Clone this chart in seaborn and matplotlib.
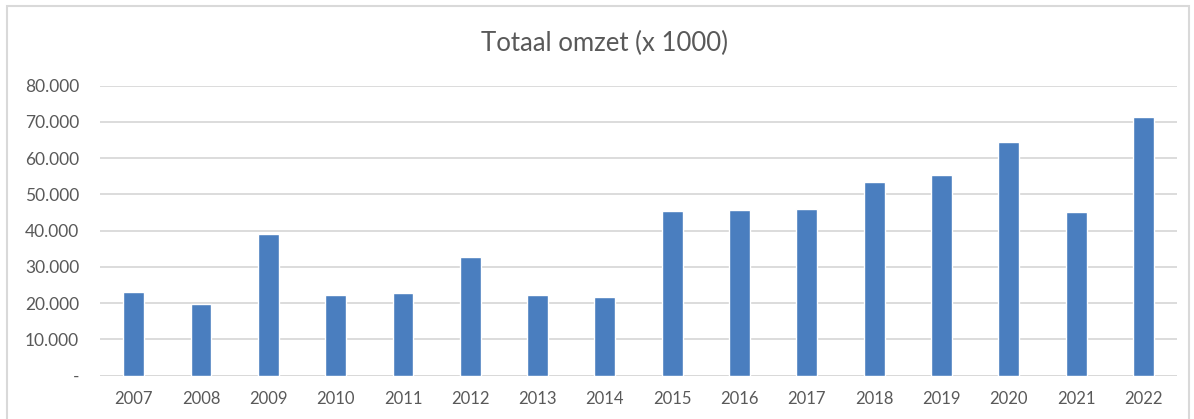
import pandas as pd
import matplotlib.pyplot as plt
import seaborn as sns
from matplotlib.patches import Rectangle
from matplotlib.ticker import FixedLocator, FuncFormatter

# Data
years = ['2007', '2008', '2009', '2010', '2011', '2012', '2013', '2014',
         '2015', '2016', '2017', '2018', '2019', '2020', '2021', '2022']
omzet = [23200, 19900, 39000, 22300, 22700, 32700, 22300, 21600,
         45400, 45800, 46000, 53400, 55500, 64600, 45100, 71400]
y_ticks = [0, 10000, 20000, 30000, 40000, 50000, 60000, 70000, 80000]

sns.set_theme(style='white')
plt.rcParams['font.family'] = ['Lato', 'DejaVu Sans']

text_col = '#595959'
grid_col = '#D9D9D9'
bar_col = '#4A7EBF'


def fmt_thousands(v, pos):
    if v == 0:
        return '-'
    return f'{int(v):,}'.replace(',', '.')


def plot_omzet():
    df = pd.DataFrame({'jaar': years, 'omzet': omzet})
    fig = plt.figure(figsize=(11.94, 4.19), dpi=100)
    ax = fig.add_axes([0.0838, 0.1033, 0.902, 0.6922])

    sns.barplot(data=df, x='jaar', y='omzet', color=bar_col,
                width=0.31, saturation=1, ax=ax, zorder=3)

    ax.set_ylim(0, 80000)
    ax.set_xlim(-0.5, len(years) - 0.5)
    ax.yaxis.set_major_locator(FixedLocator(y_ticks))
    ax.yaxis.set_major_formatter(FuncFormatter(fmt_thousands))
    ax.grid(axis='y', color=grid_col, linewidth=1.3, zorder=0)
    ax.set_axisbelow(True)
    for s in ax.spines.values():
        s.set_visible(False)
    ax.axhline(0, color=grid_col, linewidth=1.3, zorder=1)

    ax.set_xlabel('')
    ax.set_ylabel('')
    ax.tick_params(axis='x', length=0, pad=11, labelsize=12,
                   labelcolor=text_col)
    ax.tick_params(axis='y', length=0, pad=15, labelsize=12.5,
                   labelcolor=text_col)

    fig.text(0.506, 0.897, 'Totaal omzet (x 1000)', ha='center',
             va='center', fontsize=18.5, color=text_col)

    # light frame around the chart
    fig.patches.append(Rectangle((0.006, -0.05), 0.99, 1.035,
                                 transform=fig.transFigure, fill=False,
                                 edgecolor='#D9D9D9', linewidth=1.5))

    fig.savefig('out.png', dpi=100)


if __name__ == "__main__":
    plot_omzet()
